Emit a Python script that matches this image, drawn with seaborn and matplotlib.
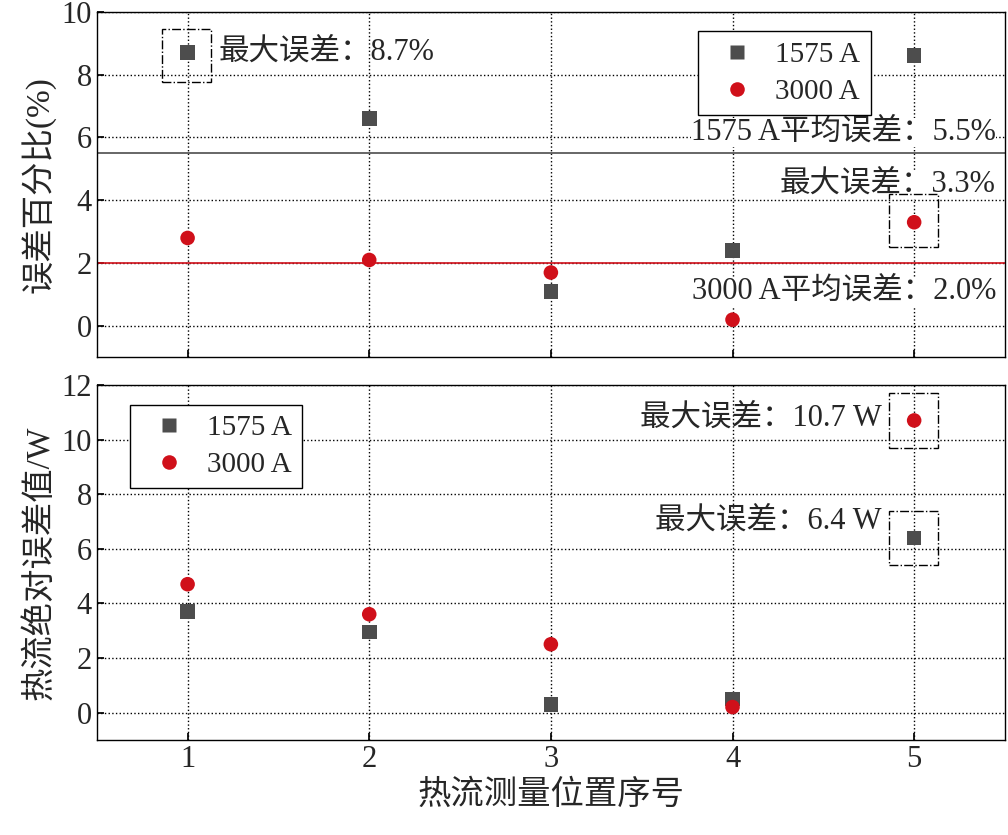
import matplotlib
matplotlib.use("Agg")
import matplotlib.pyplot as plt
import seaborn as sns
import pandas as pd
from matplotlib.patches import Rectangle

positions = [1, 2, 3, 4, 5]
pct_1575 = [8.7, 6.6, 1.1, 2.4, 8.6]
pct_3000 = [2.8, 2.1, 1.7, 0.2, 3.3]
abs_1575 = [3.7, 2.95, 0.3, 0.5, 6.4]
abs_3000 = [4.7, 3.6, 2.5, 0.2, 10.7]
mean_1575 = 5.5
mean_3000 = 2.0
series = ["1575 A", "3000 A"]

sns.set_theme(style="white")
plt.rcParams['font.family'] = ['Liberation Serif', 'Noto Sans CJK SC']
plt.rcParams['font.size'] = 22

GRAY = "#4d4d4d"
RED = "#d0101a"

fig = plt.figure(figsize=(10.08, 8.35), dpi=100)
ax1 = fig.add_axes([0.096, 0.572, 0.901, 0.414])
ax2 = fig.add_axes([0.096, 0.114, 0.901, 0.425])

def make_df(a, b):
    return pd.DataFrame({"x": positions * 2, "y": a + b,
                         "s": [series[0]] * 5 + [series[1]] * 5})

for ax, a, b in [(ax1, pct_1575, pct_3000), (ax2, abs_1575, abs_3000)]:
    df = make_df(a, b)
    sns.scatterplot(data=df, x="x", y="y", hue="s", style="s",
                    markers={series[0]: "s", series[1]: "o"},
                    palette={series[0]: GRAY, series[1]: RED},
                    s=110, edgecolor="none", ax=ax, zorder=3)
    ax.set_xlim(0.5, 5.5)
    ax.set_xticks(positions)
    ax.grid(True, linestyle=":", color="black", linewidth=1)
    for sp in ax.spines.values():
        sp.set_color("black"); sp.set_linewidth(1)
    ax.tick_params(labelsize=22, direction="in", length=5, color="black", bottom=True, left=True)
    ax.set_xlabel("")

ax1.set_ylim(-1, 10)
ax1.set_yticks([0, 2, 4, 6, 8, 10])
ax1.tick_params(labelbottom=False)
ax1.set_ylabel("误差百分比(%)", fontsize=24)
ax1.axhline(mean_1575, color=GRAY, linewidth=1.2, zorder=2)
ax1.axhline(mean_3000, color=RED, linewidth=1.2, zorder=2)
ax1.legend(loc="upper right", bbox_to_anchor=(0.868, 0.985), fontsize=21, frameon=True,
           fancybox=False, framealpha=1, edgecolor="black", handletextpad=0.3,
           borderpad=0.35, labelspacing=0.35).get_frame().set_linewidth(1)
ax1.text(5.45, 5.7, "1575 A平均误差：5.5%", ha="right", va="bottom", fontsize=22,
         bbox=dict(facecolor="white", edgecolor="none", pad=0))
ax1.text(5.45, 4.5, "最大误差：3.3%", ha="right", va="center", fontsize=22,
         bbox=dict(facecolor="white", edgecolor="none", pad=0))
ax1.text(5.45, 1.1, "3000 A平均误差：2.0%", ha="right", va="center", fontsize=22,
         bbox=dict(facecolor="white", edgecolor="none", pad=0))
ax1.text(1.17, 8.7, "最大误差：8.7%", ha="left", va="center", fontsize=22)
ax1.add_patch(Rectangle((0.86, pct_1575[0] - 0.95), 0.27, 1.7,
                        fill=False, linestyle="-.", color="black", lw=1, zorder=4))
ax1.add_patch(Rectangle((4.86, pct_3000[4] - 0.8), 0.27, 1.7,
                        fill=False, linestyle="-.", color="black", lw=1, zorder=4))

ax2.set_ylim(-1, 12)
ax2.set_yticks([0, 2, 4, 6, 8, 10, 12])
ax2.set_ylabel("热流绝对误差值/W", fontsize=24)
ax2.set_xlabel("热流测量位置序号", fontsize=24)
ax2.legend(loc="upper left", bbox_to_anchor=(0.02, 0.985), fontsize=21, frameon=True,
           fancybox=False, framealpha=1, edgecolor="black", handletextpad=0.3,
           borderpad=0.35, labelspacing=0.35).get_frame().set_linewidth(1)
ax2.text(4.82, abs_3000[4] + 0.1, "最大误差：10.7 W", ha="right", va="center", fontsize=22)
ax2.text(4.82, abs_1575[4] + 0.6, "最大误差：6.4 W", ha="right", va="center", fontsize=22)
ax2.add_patch(Rectangle((4.86, abs_3000[4] - 1.0), 0.27, 2.0,
                        fill=False, linestyle="-.", color="black", lw=1, zorder=4))
ax2.add_patch(Rectangle((4.86, abs_1575[4] - 1.0), 0.27, 2.0,
                        fill=False, linestyle="-.", color="black", lw=1, zorder=4))

fig.savefig("out.png", dpi=100)
